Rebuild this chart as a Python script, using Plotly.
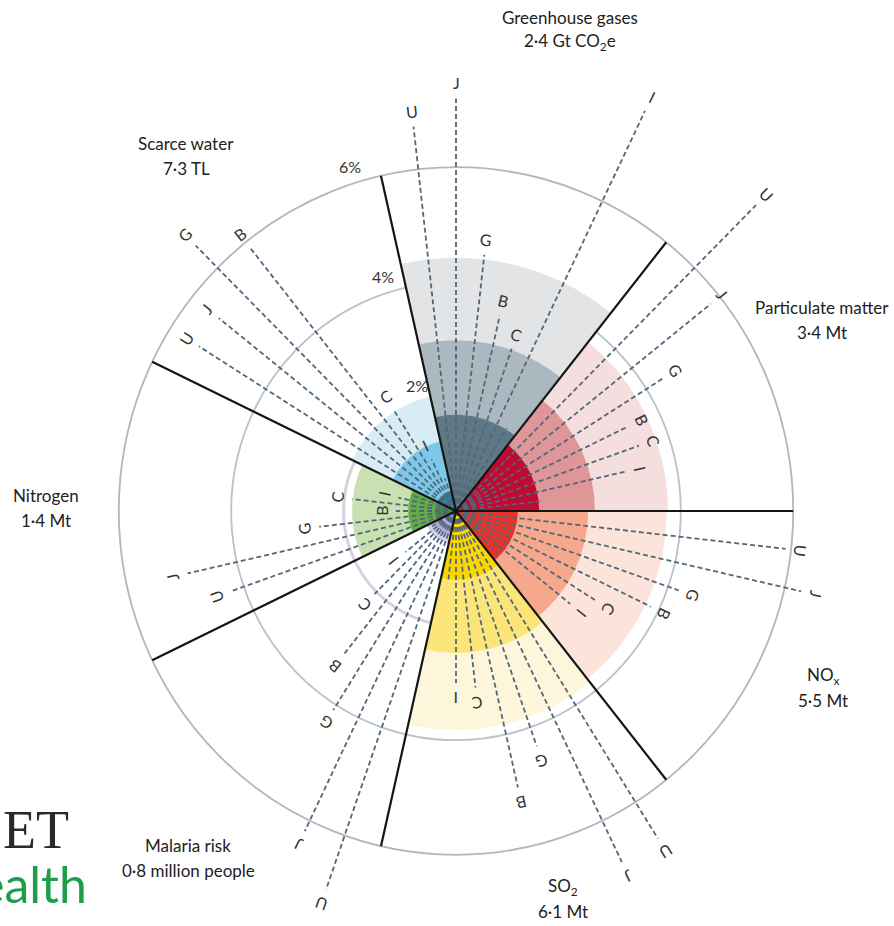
import numpy as np
import plotly.graph_objects as go

# ---------------- data ----------------
categories = ["Greenhouse gases", "Particulate matter", "NO<sub>x</sub>", "SO<sub>2</sub>",
              "Malaria risk", "Nitrogen", "Scarce water"]
amounts = ["2·4 Gt CO<sub>2</sub>e", "3·4 Mt", "5·5 Mt", "6·1 Mt",
           "0·8 million people", "1·4 Mt", "7·3 TL"]

country_codes = ["U", "J", "G", "B", "C", "I"]
# share (%) per impact category, in category order above
share_U = [6.75, 7.55, 5.90, 6.75, 7.00, 4.25, 5.40]
share_J = [7.20, 5.80, 6.30, 6.80, 6.20, 4.90, 5.40]
share_G = [4.50, 4.35, 4.20, 4.35, 4.10, 2.45, 6.55]
share_B = [3.50, 3.40, 3.85, 4.95, 3.20, 1.07, 5.90]
share_C = [3.00, 3.45, 2.95, 3.10, 2.05, 1.86, 2.10]
share_I = [7.75, 3.10, 2.60, 3.00, 1.15, 1.05, 1.00]
share_other = [1.70, 1.50, 1.10, 1.20, 0.50, 0.80, 0.60]

# global share bands (%) per category
tier_dark = [1.68, 1.48, 1.10, 1.20, 0.22, 0.30, 0.36]
tier_mid = [2.98, 2.47, 2.35, 2.48, 0.42, 0.85, 1.25]
tier_light = [4.42, 3.77, 3.75, 3.82, 0.58, 1.85, 2.05]

ring_ticks = [2, 4, 6]
ring_labels = ["2%", "4%", "6%"]

# ---------------- style ----------------
dark_colors = ["#5f7885", "#c00a32", "#eb3228", "#fad700", "#8f84c4", "#3f8f3c", "#1e87b0"]
mid_colors = ["#acb8c0", "#de9698", "#f6a88c", "#fbe478", "#b0a7d8", "#62ad45", "#7dc8e8"]
light_colors = ["#e2e4e6", "#f4dede", "#fde4da", "#fdf6da", "#d2cdea", "#c8e0b2", "#d8ecf6"]
ring_colors = ["#d3d1e2", "#bcc0c9", "#b6b6ba"]
ring_widths = [3, 1.8, 1.8]
dash_color = "#51677a"
FONT = "Lato"

W, H = 894, 926
CX, CY = 456, 511          # pixel centre of the dial
SX, SY = 56.2, 57.3        # pixels per 1 % horizontally / vertically

n = len(categories)
sector = 360.0 / n
start0 = 90 - 2 * sector   # first sector (greenhouse gases) start, clockwise from north
shares = [share_U, share_J, share_G, share_B, share_C, share_I, share_other]
codes = country_codes + [""]


def pol(r, deg):
    t = np.radians(deg)
    return r * np.sin(t), r * np.cos(t)


fig = go.Figure()

# rings (grid)
for t, col, w in zip(ring_ticks, ring_colors, ring_widths):
    fig.add_shape(type="circle", xref="x", yref="y", x0=-t, x1=t, y0=-t, y1=t,
                  line=dict(color=col, width=w), layer="below")

# wedges
for k in range(n):
    a0 = start0 + k * sector
    th = np.linspace(a0, a0 + sector, 80)
    for r, col in ((tier_light[k], light_colors[k]), (tier_mid[k], mid_colors[k]),
                   (tier_dark[k], dark_colors[k])):
        xs, ys = pol(r, th)
        fig.add_trace(go.Scatter(x=[0, *xs, 0], y=[0, *ys, 0], mode="lines",
                                 fill="toself", fillcolor=col,
                                 line=dict(width=0, color=col),
                                 hoverinfo="skip", showlegend=False))

# dashed country lines + labels
annotations = []
for j, (vals, code) in enumerate(zip(shares, codes)):
    xs, ys = [], []
    for k in range(n):
        ang = start0 + k * sector + (j + 1) * sector / 8
        ex, ey = pol(vals[k], ang)
        xs += [0, ex, None]
        ys += [0, ey, None]
        if code:
            lx, ly = pol(vals[k] + 0.27, ang)
            ta = ((ang + 180) % 360) - 180
            annotations.append(dict(x=lx, y=ly, xref="x", yref="y", text=code,
                                    showarrow=False, textangle=ta,
                                    font=dict(family=FONT, size=16, color="#333333"),
                                    xanchor="center", yanchor="middle"))
    fig.add_trace(go.Scatter(x=xs, y=ys, mode="lines",
                             line=dict(color=dash_color, width=1.8, dash="5px,3px"),
                             hoverinfo="skip", showlegend=False))

# sector boundaries
bx, by = [], []
for k in range(n):
    ex, ey = pol(ring_ticks[-1], start0 + k * sector)
    bx += [0, ex, None]
    by += [0, ey, None]
fig.add_trace(go.Scatter(x=bx, y=by, mode="lines", line=dict(color="#151515", width=2.2),
                         hoverinfo="skip", showlegend=False))

# ring tick labels
for t, lab in zip(ring_ticks, ring_labels):
    lx, ly = pol(t + 0.3, -17.5)
    annotations.append(dict(x=lx, y=ly, xref="x", yref="y", text=lab, showarrow=False,
                            font=dict(family=FONT, size=16, color="#333333"),
                            xanchor="center", yanchor="middle"))

# category titles (pixel centres of the two-line blocks)
title_px = [(570, 30), (822, 320), (823, 688), (563, 899), (188, 858), (46, 508), (186, 156)]
for cat, amt, (px, py) in zip(categories, amounts, title_px):
    for txt, dy in ((cat, -12.5), (amt, 12.5)):
        annotations.append(dict(x=px / W, y=1 - (py + dy) / H, xref="paper", yref="paper",
                                text=txt, showarrow=False,
                                font=dict(family=FONT, size=17, color="#222222"),
                                xanchor="center", yanchor="middle"))

# journal logo fragment at the lower left
annotations.append(dict(x=71 / W, y=1 - 830 / H, xref="paper", yref="paper", text="ET",
                        showarrow=False, xanchor="right", yanchor="middle",
                        font=dict(family="Liberation Serif", size=54, color="#2a2a2a")))
annotations.append(dict(x=89 / W, y=1 - 884 / H, xref="paper", yref="paper", text="ealth",
                        showarrow=False, xanchor="right", yanchor="middle",
                        font=dict(family=FONT, size=50, color="#1f9e4a")))

fig.update_layout(
    width=W, height=H, autosize=False,
    margin=dict(l=0, r=0, t=0, b=0, pad=0),
    paper_bgcolor="white", plot_bgcolor="white",
    xaxis=dict(range=[-CX / SX, (W - CX) / SX], visible=False, fixedrange=True),
    yaxis=dict(range=[-(H - CY) / SY, CY / SY], visible=False, fixedrange=True),
    annotations=annotations,
    showlegend=False,
)

fig.write_html("out.html", config={"displayModeBar": False},
               post_script="document.body.style.margin='0';")
